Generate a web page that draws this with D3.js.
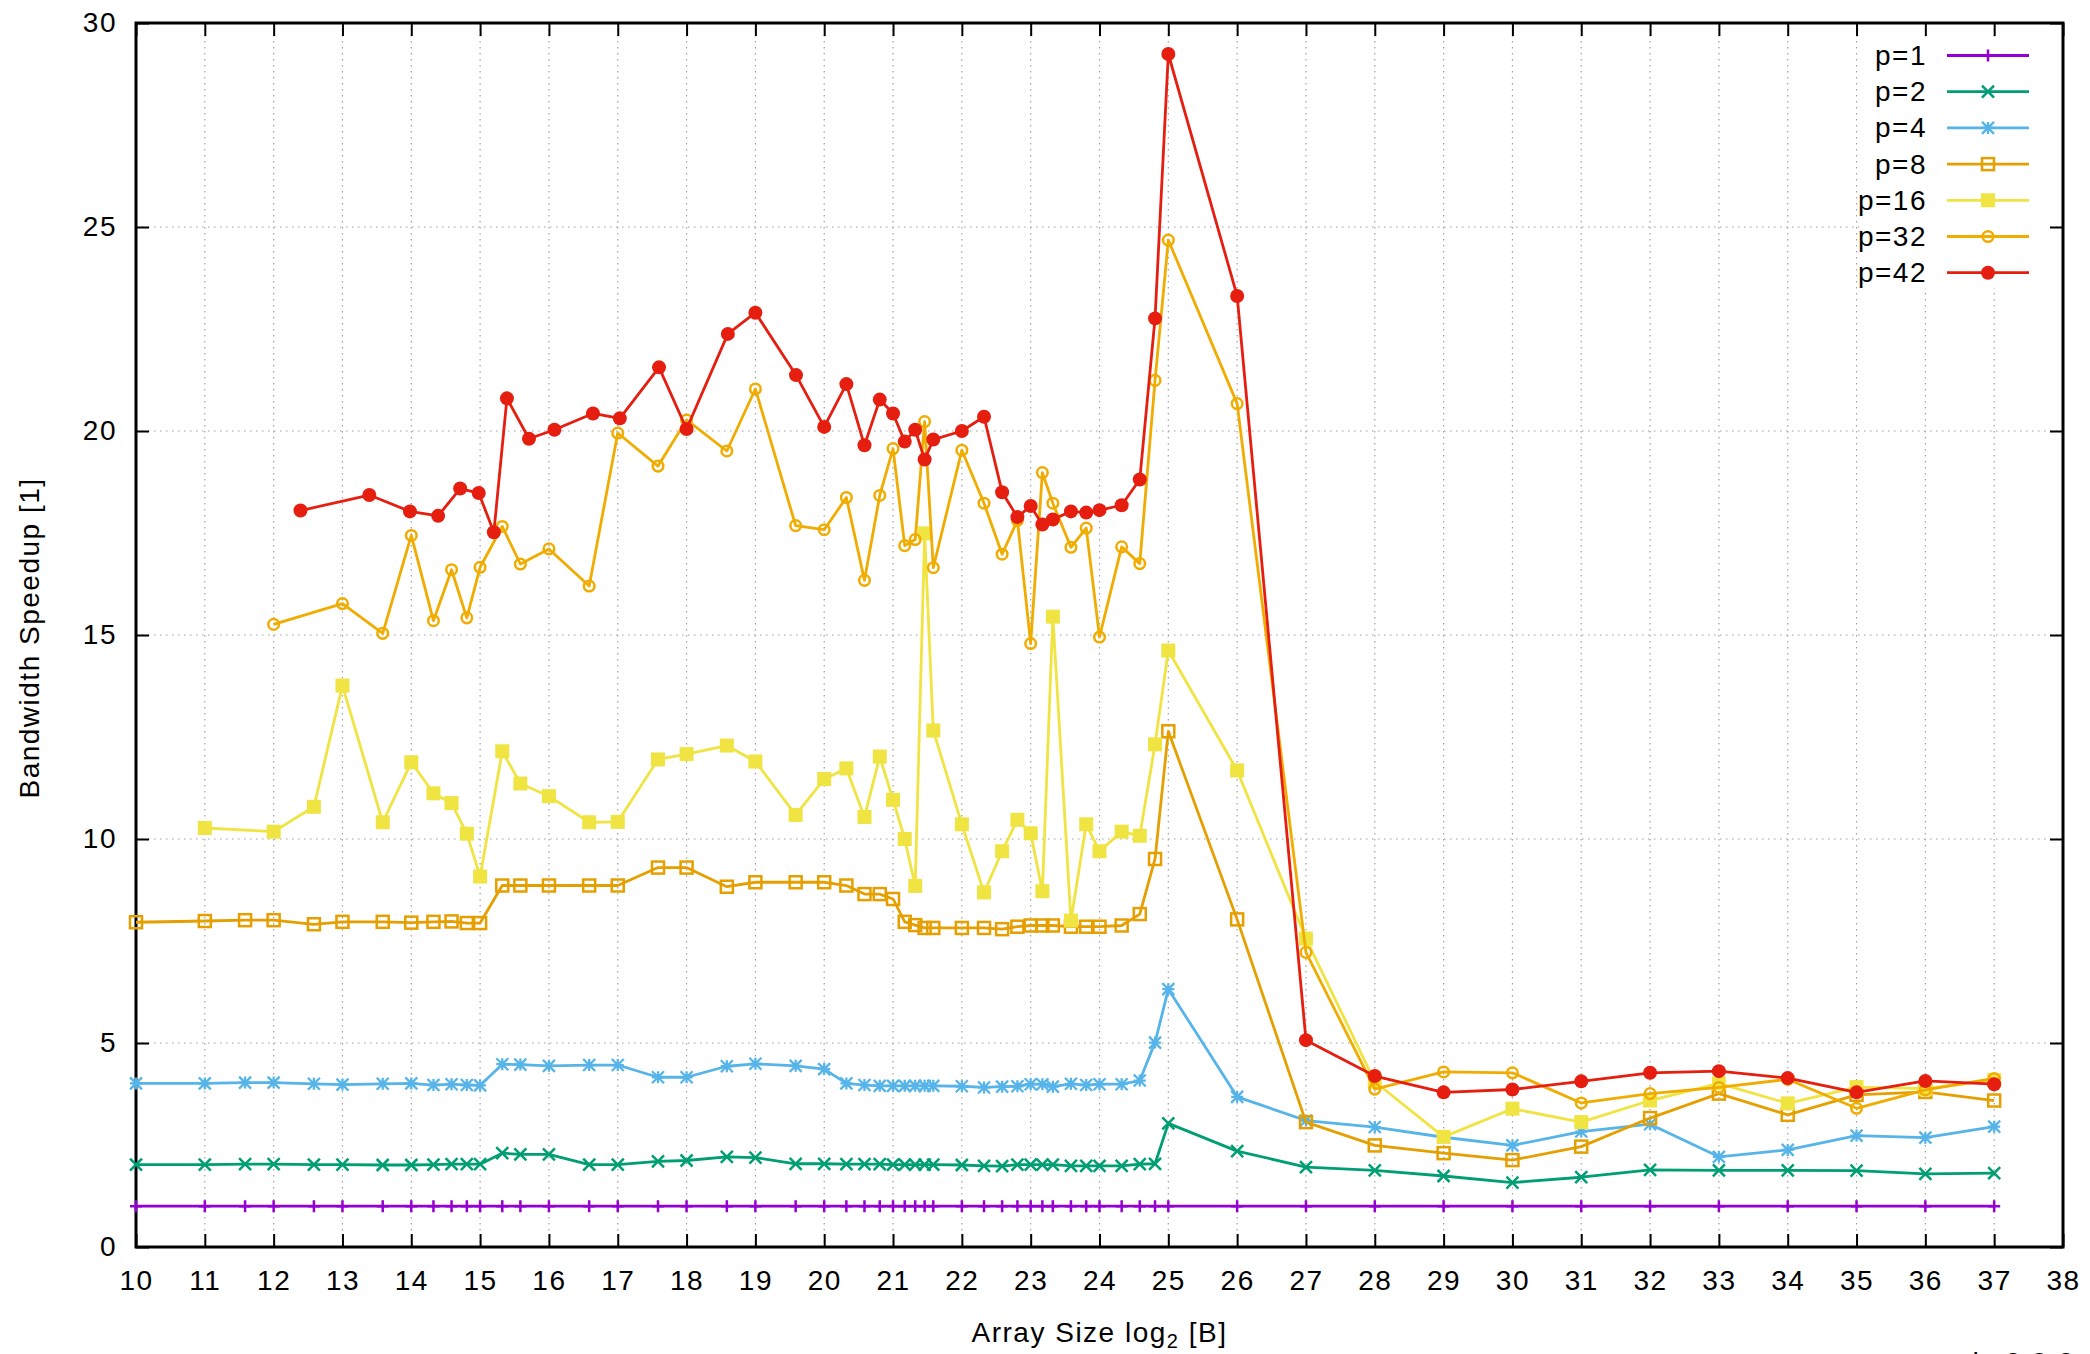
<!DOCTYPE html>
<html>
<head>
<meta charset="utf-8">
<script src="https://cdn.jsdelivr.net/npm/d3@7"></script>
<style>
  body { margin: 0; background: #fff; }
  text { font-family: "Liberation Sans", Arial, sans-serif; }
</style>
</head>
<body>
<svg id="chart" width="2090" height="1354"></svg>
<script>
// array sizes (log2 of bytes) used by most runs
const xCommon = [10, 11, 11.585, 12, 12.585, 13, 13.585, 14, 14.322, 14.585, 14.807, 15, 15.322, 15.585, 16, 16.585, 17, 17.585, 18, 18.585, 19, 19.585, 20, 20.322, 20.585, 20.807, 21, 21.17, 21.322, 21.459, 21.585, 22, 22.322, 22.585, 22.807, 23, 23.17, 23.322, 23.585, 23.807, 24, 24.322, 24.585, 24.807, 25, 26, 27, 28, 29, 30, 31, 32, 33, 34, 35, 36, 37];
const xP16 = xCommon.filter(x => x !== 10 && x !== 11.585);
const xP32 = xCommon.filter(x => x !== 10 && x !== 11 && x !== 11.585 && x !== 12.585);
const xP42 = [12.39, 13.39, 13.98, 14.39, 14.71, 14.98, 15.2, 15.39, 15.71, 16.08, 16.64, 17.03, 17.6, 18, 18.6, 19, 19.59, 20, 20.322, 20.585, 20.807, 21, 21.17, 21.322, 21.459, 21.585, 22, 22.322, 22.585, 22.807, 23, 23.17, 23.322, 23.585, 23.807, 24, 24.322, 24.585, 24.807, 25, 26, 27, 28, 29, 30, 31, 32, 33, 34, 35, 36, 37];

const p1 = xCommon.map(() => 1);
const p2 = [2.02, 2.02, 2.03, 2.03, 2.02, 2.02, 2.01, 2.01, 2.02, 2.03, 2.03, 2.03, 2.30, 2.27, 2.27, 2.02, 2.02, 2.10, 2.12, 2.21, 2.19, 2.04, 2.04, 2.03, 2.03, 2.03, 2.02, 2.02, 2.02, 2.02, 2.02, 2.01, 1.99, 1.98, 2.02, 2.02, 2.02, 2.02, 1.99, 1.99, 1.99, 1.99, 2.03, 2.04, 3.03, 2.35, 1.96, 1.88, 1.74, 1.58, 1.71, 1.89, 1.88, 1.88, 1.87, 1.79, 1.81];
const p4 = [4.01, 4.01, 4.03, 4.03, 4.0, 3.98, 4.0, 4.01, 3.97, 3.99, 3.97, 3.96, 4.48, 4.47, 4.44, 4.46, 4.46, 4.16, 4.16, 4.43, 4.49, 4.44, 4.36, 4.01, 3.97, 3.95, 3.95, 3.95, 3.95, 3.95, 3.95, 3.94, 3.91, 3.93, 3.94, 3.99, 3.99, 3.93, 4.0, 3.97, 3.99, 3.99, 4.08, 5.01, 6.32, 3.68, 3.10, 2.94, 2.69, 2.49, 2.83, 3.01, 2.21, 2.38, 2.73, 2.68, 2.95];
const p8 = [7.96, 7.99, 8.01, 8.01, 7.91, 7.97, 7.97, 7.95, 7.97, 7.98, 7.94, 7.94, 8.86, 8.86, 8.86, 8.86, 8.86, 9.3, 9.3, 8.83, 8.94, 8.94, 8.94, 8.86, 8.65, 8.65, 8.53, 7.97, 7.89, 7.82, 7.82, 7.82, 7.82, 7.79, 7.85, 7.88, 7.88, 7.88, 7.85, 7.85, 7.85, 7.88, 8.16, 9.51, 12.64, 8.03, 3.06, 2.49, 2.30, 2.13, 2.46, 3.16, 3.76, 3.24, 3.73, 3.80, 3.59];
const p16 = [10.27, 10.18, 10.79, 13.76, 10.41, 11.88, 11.12, 10.88, 10.13, 9.08, 12.15, 11.36, 11.05, 10.41, 10.42, 11.95, 12.08, 12.29, 11.9, 10.59, 11.47, 11.73, 10.54, 12.02, 10.96, 10.0, 8.85, 17.49, 12.66, 10.36, 8.69, 9.7, 10.47, 10.14, 8.72, 15.45, 8.0, 10.36, 9.7, 10.18, 10.08, 12.32, 14.62, 11.68, 7.56, 4.05, 2.70, 3.39, 3.06, 3.59, 4.01, 3.52, 3.92, 3.88, 4.09];
const p32 = [15.26, 15.77, 15.04, 17.44, 15.35, 16.6, 15.42, 16.66, 17.66, 16.74, 17.11, 16.2, 19.95, 19.14, 20.27, 19.51, 21.03, 17.68, 17.58, 18.37, 16.34, 18.42, 19.57, 17.19, 17.34, 20.23, 16.65, 19.53, 18.23, 16.98, 17.81, 14.79, 18.98, 18.23, 17.15, 17.62, 14.95, 17.16, 16.75, 21.24, 24.68, 20.67, 7.22, 3.87, 4.29, 4.27, 3.53, 3.76, 3.91, 4.11, 3.40, 3.85, 4.13];
const p42 = [18.05, 18.43, 18.03, 17.92, 18.59, 18.48, 17.52, 20.80, 19.81, 20.03, 20.43, 20.31, 21.56, 20.05, 22.38, 22.9, 21.37, 20.1, 21.15, 19.65, 20.77, 20.43, 19.74, 20.03, 19.3, 19.79, 20.0, 20.35, 18.5, 17.89, 18.16, 17.71, 17.83, 18.03, 18.0, 18.06, 18.18, 18.81, 22.76, 29.24, 23.31, 5.07, 4.19, 3.79, 3.86, 4.06, 4.27, 4.31, 4.14, 3.79, 4.07, 3.99];

const labels = ['p=1', 'p=2', 'p=4', 'p=8', 'p=16', 'p=32', 'p=42'];
const colors = ['#9400d3', '#009e73', '#56b4e9', '#e69f00', '#f0e442', '#f0ac00', '#e51e10'];
const markers = ['plus', 'cross', 'star', 'square', 'fsquare', 'circle', 'fcircle'];
const xTicks = d3.range(10, 39);
const yTicks = d3.range(0, 31, 5);

const series = [
  [xCommon, p1], [xCommon, p2], [xCommon, p4], [xCommon, p8],
  [xP16, p16], [xP32, p32], [xP42, p42]
].map(([xs, vs], i) => ({
  label: labels[i], color: colors[i], marker: markers[i],
  pts: xs.map((x, j) => ({ x: x, v: vs[j] }))
}));

const plotLeft = 136, plotRight = 2063, plotTop = 23, plotBottom = 1247;
const svg = d3.select('#chart');
const xScale = d3.scaleLinear().domain([10, 38]).range([plotLeft, plotRight]);
const yScale = d3.scaleLinear().domain([0, 30]).range([plotBottom, plotTop]);

// grid
svg.append('g').selectAll('line').data(xTicks.slice(1, -1)).join('line')
  .attr('x1', d => xScale(d)).attr('x2', d => xScale(d))
  .attr('y1', plotTop).attr('y2', plotBottom)
  .attr('stroke', '#a0a0a0').attr('stroke-width', 1.2).attr('stroke-dasharray', '1.5,4.5');
svg.append('g').selectAll('line').data(yTicks.slice(1, -1)).join('line')
  .attr('x1', plotLeft).attr('x2', plotRight)
  .attr('y1', d => yScale(d)).attr('y2', d => yScale(d))
  .attr('stroke', '#a0a0a0').attr('stroke-width', 1.2).attr('stroke-dasharray', '1.5,4.5');

// legend background hides grid
svg.append('rect').attr('x', 1859).attr('y', 38).attr('width', 190).attr('height', 250).attr('fill', '#fff');

// axes (inward ticks)
const fontSize = 28, spacing = '1.5px';
const styleAxis = g => {
  g.select('.domain').remove();
  g.selectAll('.tick line').attr('stroke', '#000').attr('stroke-width', 2);
  g.selectAll('.tick text').attr('fill', '#000').attr('font-size', fontSize)
    .attr('font-family', '"Liberation Sans", Arial, sans-serif').style('letter-spacing', spacing);
};
svg.append('g').attr('transform', `translate(0,${plotBottom})`)
  .call(d3.axisBottom(xScale).tickValues(xTicks).tickFormat(d3.format('d')).tickSizeInner(-13).tickSizeOuter(0).tickPadding(23))
  .call(styleAxis);
svg.append('g').attr('transform', `translate(0,${plotTop})`)
  .call(d3.axisTop(xScale).tickValues(xTicks).tickFormat('').tickSizeInner(-13).tickSizeOuter(0))
  .call(styleAxis);
svg.append('g').attr('transform', `translate(${plotLeft},0)`)
  .call(d3.axisLeft(yScale).tickValues(yTicks).tickFormat(d3.format('d')).tickSizeInner(-13).tickSizeOuter(0).tickPadding(19))
  .call(styleAxis);
svg.append('g').attr('transform', `translate(${plotRight},0)`)
  .call(d3.axisRight(yScale).tickValues(yTicks).tickFormat('').tickSizeInner(-13).tickSizeOuter(0))
  .call(styleAxis);

svg.append('rect').attr('x', plotLeft).attr('y', plotTop).attr('width', plotRight - plotLeft).attr('height', plotBottom - plotTop)
  .attr('fill', 'none').attr('stroke', '#000').attr('stroke-width', 3);

// markers
function drawMarker(g, type, color) {
  const h = 6;
  if (type === 'plus') {
    g.append('path').attr('d', `M${-h},0H${h}M0,${-h}V${h}`).attr('stroke', color).attr('stroke-width', 2.5).attr('fill', 'none');
  } else if (type === 'cross') {
    g.append('path').attr('d', `M${-h},${-h}L${h},${h}M${-h},${h}L${h},${-h}`).attr('stroke', color).attr('stroke-width', 2.5).attr('fill', 'none');
  } else if (type === 'star') {
    g.append('path').attr('d', `M${-h},0H${h}M0,${-h}V${h}M${-h},${-h}L${h},${h}M${-h},${h}L${h},${-h}`).attr('stroke', color).attr('stroke-width', 2.3).attr('fill', 'none');
  } else if (type === 'square') {
    g.append('rect').attr('x', -6).attr('y', -6).attr('width', 12).attr('height', 12).attr('stroke', color).attr('stroke-width', 2.5).attr('fill', 'none');
  } else if (type === 'fsquare') {
    g.append('rect').attr('x', -7).attr('y', -7).attr('width', 14).attr('height', 14).attr('fill', color);
  } else if (type === 'circle') {
    g.append('circle').attr('r', 5.3).attr('stroke', color).attr('stroke-width', 2.5).attr('fill', 'none');
  } else {
    g.append('circle').attr('r', 7).attr('fill', color);
  }
}

const line = d3.line().x(d => xScale(d.x)).y(d => yScale(d.v));
const plot = svg.append('g');
series.forEach(s => {
  plot.append('path').attr('d', line(s.pts)).attr('fill', 'none')
    .attr('stroke', s.color).attr('stroke-width', 2.8).attr('stroke-linejoin', 'round');
  s.pts.forEach(p => {
    const g = plot.append('g').attr('transform', `translate(${xScale(p.x)},${yScale(p.v)})`);
    drawMarker(g, s.marker, s.color);
  });
});

// legend
const legend = svg.append('g');
series.forEach((s, i) => {
  const cy = 55.5 + i * 36.2;
  legend.append('text').attr('x', 1927).attr('y', cy).attr('text-anchor', 'end')
    .attr('dominant-baseline', 'central').attr('font-size', fontSize).style('letter-spacing', spacing).text(s.label);
  legend.append('line').attr('x1', 1947).attr('x2', 2029).attr('y1', cy).attr('y2', cy)
    .attr('stroke', s.color).attr('stroke-width', 2.8);
  drawMarker(legend.append('g').attr('transform', `translate(1988,${cy})`), s.marker, s.color);
});

// axis titles
const xt = svg.append('text').attr('x', (plotLeft + plotRight) / 2).attr('y', 1342).attr('text-anchor', 'middle')
  .attr('font-size', fontSize).style('letter-spacing', spacing);
xt.append('tspan').text('Array Size log');
xt.append('tspan').attr('font-size', 20).attr('dy', 6).text('2');
xt.append('tspan').attr('dy', -6).text(' [B]');

svg.append('text').attr('transform', 'translate(29,638) rotate(-90)').attr('text-anchor', 'middle')
  .attr('dominant-baseline', 'central').attr('font-size', fontSize).style('letter-spacing', spacing)
  .text('Bandwidth Speedup [1]');

// partly cut-off note at the bottom edge, as in the reference
svg.append('text').attr('x', 2075).attr('y', 1372).attr('text-anchor', 'end')
  .attr('font-size', fontSize).style('letter-spacing', spacing).text('d v0.0.0');
</script>
</body>
</html>
